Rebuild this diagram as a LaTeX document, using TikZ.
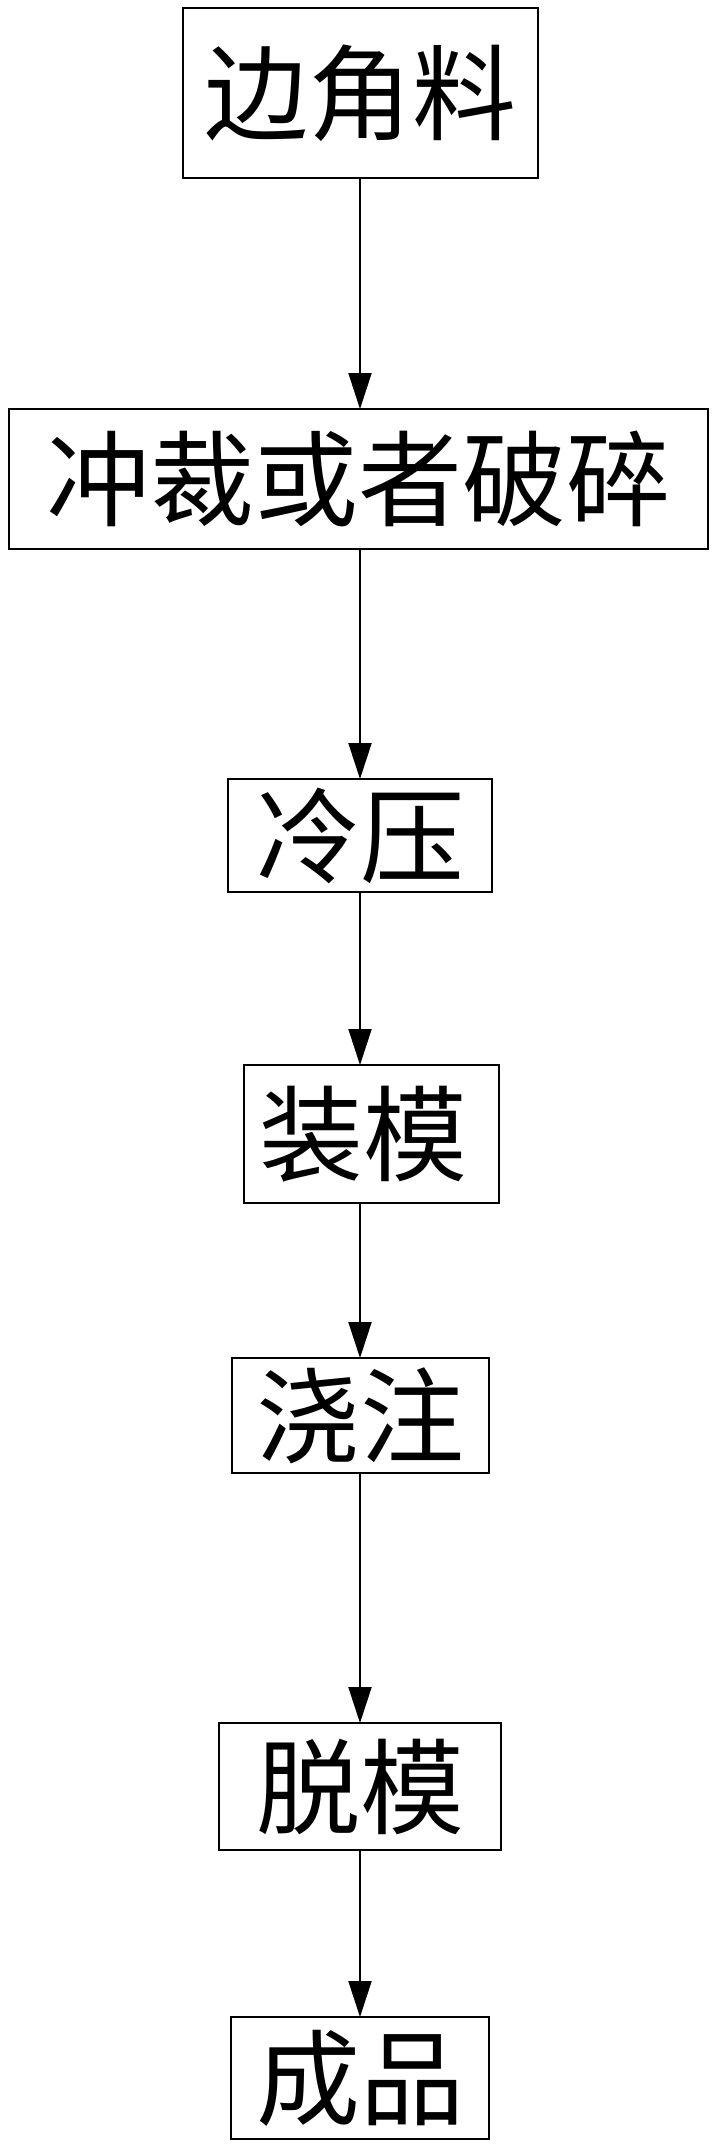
\documentclass[tikz,border=0pt]{standalone}
\usepackage{fontspec}
\newfontfamily\cjk{Noto Sans CJK SC}
\usetikzlibrary{arrows.meta}
\tikzset{
  stepbox/.style={draw=black, line width=2.6pt, inner sep=0pt, outer sep=0pt,
    font=\cjk\fontsize{104pt}{110pt}\selectfont, anchor=center},
  flow/.style={line width=2pt, -{Triangle[length=36pt,width=23pt]}}
}
\begin{document}
\begin{tikzpicture}[x=1pt,y=-1pt]
\useasboundingbox (0,0) rectangle (717,2146);
\fill[white] (0,0) rectangle (717,2146);
\node[stepbox, minimum width=355pt, minimum height=170pt] (b1) at (360.5,93) {边角料};
\node[stepbox, minimum width=699pt, minimum height=140pt] (b2) at (358.5,479) {冲裁或者破碎};
\node[stepbox, minimum width=264pt, minimum height=113pt] (b3) at (360,835.5) {冷压};
\node[stepbox, minimum width=255pt, minimum height=138pt] (b4) at (371.5,1134) {\hspace*{-16pt}装模};
\node[stepbox, minimum width=257pt, minimum height=115pt] (b5) at (360.5,1415.5) {浇注};
\node[stepbox, minimum width=282pt, minimum height=127pt] (b6) at (360,1786.5) {脱模};
\node[stepbox, minimum width=258pt, minimum height=122pt] (b7) at (360,2078) {成品};
\coordinate (ax) at (360,0);
\draw[flow] (b1.south -| ax) -- (b2.north -| ax);
\draw[flow] (b2.south -| ax) -- (b3.north -| ax);
\draw[flow] (b3.south -| ax) -- (b4.north -| ax);
\draw[flow] (b4.south -| ax) -- (b5.north -| ax);
\draw[flow] (b5.south -| ax) -- (b6.north -| ax);
\draw[flow] (b6.south -| ax) -- (b7.north -| ax);
\end{tikzpicture}
\end{document}
